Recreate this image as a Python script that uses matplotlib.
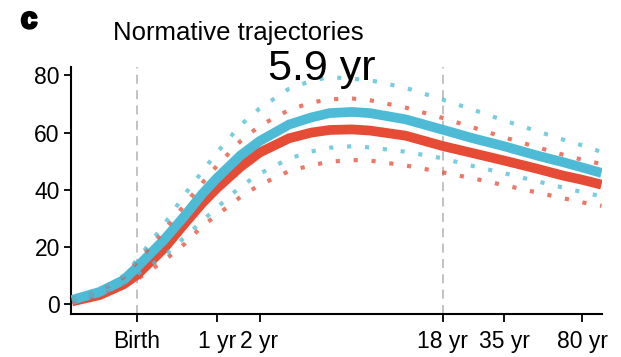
import numpy as np
import matplotlib
matplotlib.use("Agg")
import matplotlib.pyplot as plt
import matplotlib.patheffects as pe

plt.rcParams['font.family'] = ['Liberation Sans', 'DejaVu Sans']

# age in years since birth (prenatal ages are negative)
age = [-0.38, -0.25, -0.1, 0, 0.25, 0.5, 0.75, 1, 1.5, 2, 3, 4, 5, 6.5, 8, 12,
       18, 25, 35, 50, 65, 80, 98]
blue_mid = [1.5, 4.3, 8.5, 13, 22.5, 31, 38.5, 44, 52, 57, 62.8, 65.3, 66.8,
            67.2, 66.8, 64.6, 61.0, 58.0, 55.2, 51.9, 49.7, 47.8, 45.9]
red_mid = [1.0, 3.2, 7.0, 10.3, 19.5, 28.3, 35.3, 40.5, 48, 53, 58, 60, 60.9,
           61.1, 60.7, 58.9, 55.3, 52.8, 50.2, 47.3, 45.0, 43.5, 41.8]
blue_hi = [2, 5, 10, 15.5, 27.8, 38.5, 46.3, 52.9, 62.6, 68.4, 75.3, 78.1, 79.4,
           78.8, 78.3, 75.6, 71.5, 68.0, 64.2, 60.4, 57.6, 55.5, 53.2]
blue_lo = [1.2, 3.5, 7.5, 10.5, 16.8, 23.5, 29.1, 33.7, 41.1, 45.6, 50.9, 53.4,
           54.7, 55.2, 54.8, 53.3, 51.0, 48.3, 45.8, 42.9, 40.8, 39.2, 37.7]
red_hi = [1.8, 4.6, 9.5, 14.8, 25.8, 34.9, 42.3, 48.3, 57, 62.3, 67.9, 70.5,
          71.6, 71.9, 71.3, 68.7, 65.1, 61.8, 58.3, 54.8, 52.3, 50.5, 49.0]
red_lo = [0.9, 3, 6.5, 8.7, 15.2, 21.2, 27.3, 31.1, 37.5, 41.7, 46.5, 48.6,
          49.8, 50.4, 50.2, 48.5, 46.1, 44.0, 41.6, 39.0, 37.1, 35.6, 34.4]

tick_ages = [0, 1, 2, 18, 35, 80]
tick_labels = ['Birth', '1 yr', '2 yr', '18 yr', '35 yr', '80 yr']
peak_label = '5.9 yr'

GEST = 0.77  # years from conception to birth, for the log axis
blue = '#4DBBD5'
red = '#E64B35'

x = np.array(age) + GEST

fig = plt.figure(figsize=(6.21, 3.57), dpi=100)
ax = fig.add_axes([0.1143, 0.1204, 0.8551, 0.6919])

for a in (0, 18):
    ax.axvline(a + GEST, color='#bdbdbd', lw=1.3, ls=(0, (5, 3.5)), zorder=1)

ax.plot(x, red_mid, color=red, lw=7, solid_capstyle='butt',
        solid_joinstyle='round', zorder=2)
ax.plot(x, blue_mid, color=blue, lw=7, solid_capstyle='butt',
        solid_joinstyle='round', zorder=3)

dots = (0, (1, 3.3))
for y, c in ((red_hi, red), (red_lo, red), (blue_hi, blue), (blue_lo, blue)):
    ax.plot(x, y, color=c, lw=3, ls=dots, alpha=0.75, zorder=4)

ax.set_xscale('log')
ax.set_xlim(0.386, 99.3)
ax.set_ylim(-3.4, 82.9)
ax.set_xticks([t + GEST for t in tick_ages])
ax.set_xticklabels(tick_labels)
ax.xaxis.set_minor_locator(matplotlib.ticker.NullLocator())
ax.set_yticks([0, 20, 40, 60, 80])

for s in ('top', 'right'):
    ax.spines[s].set_visible(False)
for s in ('left', 'bottom'):
    ax.spines[s].set_linewidth(1.5)
ax.tick_params(axis='both', labelsize=16.5, width=1.3, length=5, pad=3)
ax.tick_params(axis='x', length=5.5, pad=6)

fig.text(113 / 621, 1 - 40 / 357, 'Normative trajectories', fontsize=18.5,
         ha='left', va='baseline')
fig.text(322 / 621, 1 - 80 / 357, peak_label, fontsize=31,
         ha='center', va='baseline')
fig.text(21 / 621, 1 - 28 / 357, 'c', fontsize=21, fontweight='bold',
         ha='left', va='baseline',
         path_effects=[pe.withStroke(linewidth=2, foreground='black')])

fig.savefig('out.png', dpi=100)
